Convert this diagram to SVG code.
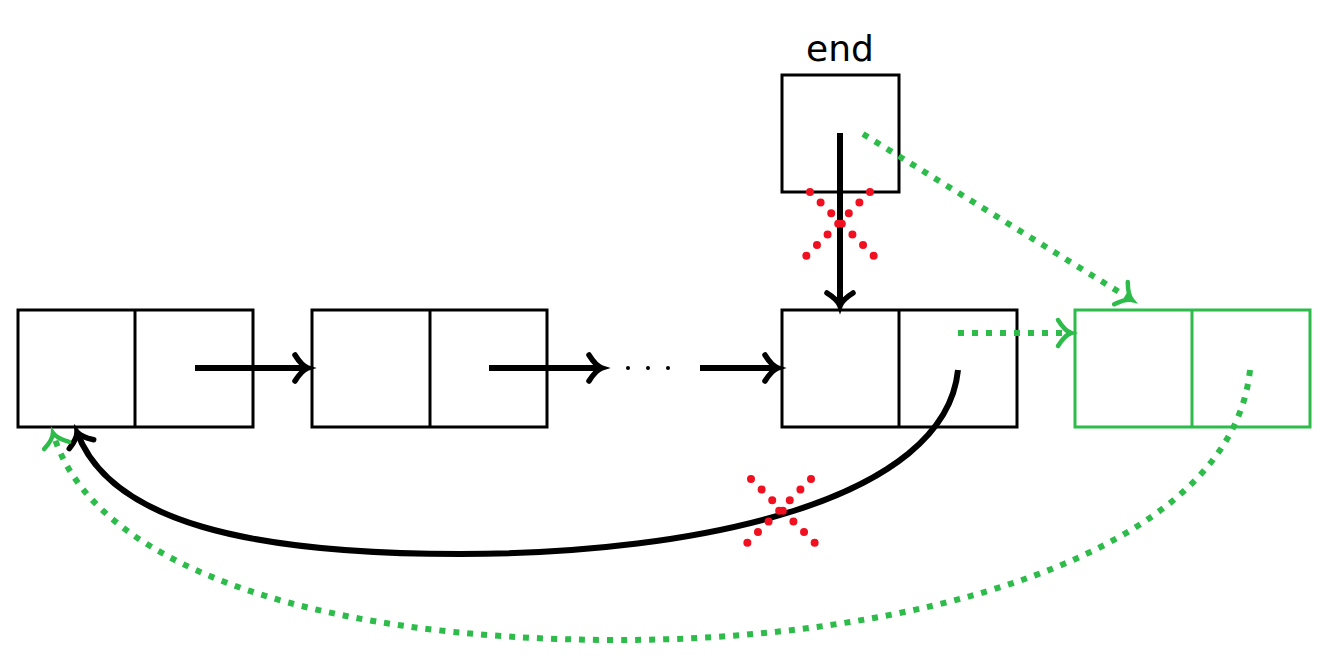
<svg xmlns="http://www.w3.org/2000/svg" width="1332" height="660" viewBox="0 0 1332 660">
<style>
.box{fill:none;stroke:#000;stroke-width:3}
.gbox{fill:none;stroke:#2dbb4a;stroke-width:3}
.arr{fill:none;stroke:#000;stroke-width:6;marker-end:url(#bh)}
.garr{fill:none;stroke:#2dbb4a;stroke-width:6;stroke-dasharray:6 8;marker-end:url(#gh)}
.x{fill:none;stroke:#f01020;stroke-width:8;stroke-dasharray:0 15;stroke-linecap:round}
.lbl{font-family:"DejaVu Sans",sans-serif;font-size:36px;fill:#000}
</style>
<defs>
<marker id="bh" markerUnits="userSpaceOnUse" viewBox="-20 -20 26 40" markerWidth="26" markerHeight="40" refX="0" refY="0" orient="auto" overflow="visible">
<path d="M-13,-13 C-8,-5 -3,-1 0,0 C-3,1 -8,5 -13,13" fill="none" stroke="#000" stroke-width="5.5" stroke-linecap="round"/>
</marker>
<marker id="gh" markerUnits="userSpaceOnUse" viewBox="-20 -20 26 40" markerWidth="26" markerHeight="40" refX="0" refY="0" orient="auto" overflow="visible">
<path d="M-13,-13 C-8,-5 -3,-1 0,0 C-3,1 -8,5 -13,13" fill="none" stroke="#2dbb4a" stroke-width="4.5" stroke-linecap="round"/>
</marker>
</defs>
<rect width="1332" height="660" fill="#fff"/>
<g id="node1"><rect class="box" x="18" y="310" width="235" height="117"/><line class="box" x1="135" y1="310" x2="135" y2="427"/></g>
<g id="node2"><rect class="box" x="312" y="310" width="235" height="117"/><line class="box" x1="430" y1="310" x2="430" y2="427"/></g>
<g id="node3"><rect class="box" x="782" y="310" width="235" height="117"/><line class="box" x1="899" y1="310" x2="899" y2="427"/></g>
<g id="node4"><rect class="gbox" x="1075" y="310" width="235" height="117"/><line class="gbox" x1="1192" y1="310" x2="1192" y2="427"/></g>
<g id="end"><rect class="box" x="782" y="75" width="117" height="117"/><text class="lbl" x="840" y="61" text-anchor="middle">end</text></g>
<g id="dots" fill="#000"><circle cx="628" cy="368" r="2"/><circle cx="648" cy="368" r="2"/><circle cx="668" cy="368" r="2"/></g>
<g id="connectors">
<path class="arr" d="M195,368 L308,368"/>
<path class="arr" d="M489,368 L602,368"/>
<path class="arr" d="M700,368 L778,368"/>
<path class="arr" d="M840,133 L840,306"/>
<path class="arr" d="M958,370 C945,500 700,554 460,554 C250,554 110,522 77,432"/>
<path class="garr" d="M958,333 L1071,333"/>
<path class="garr" d="M863,134 L1132,300"/>
<path class="garr" d="M1250,370 C1230,560 900,640 620,640 C300,640 90,560 53,433"/>
</g>
<g id="crosses">
<path class="x" d="M810,192 L874,256 M870,192 L806,256"/>
<path class="x" d="M751,479 L815,543 M811,479 L747,543"/>
</g>
</svg>
